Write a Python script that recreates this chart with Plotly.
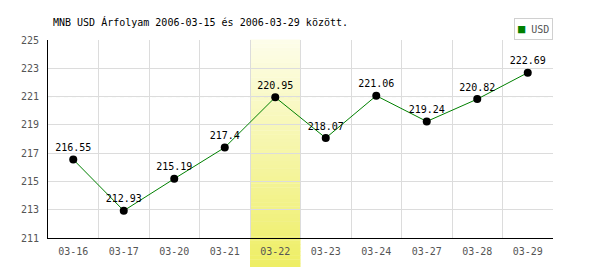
import plotly.graph_objects as go

# ---- data ----
categories = ["03-16", "03-17", "03-20", "03-21", "03-22",
              "03-23", "03-24", "03-27", "03-28", "03-29"]
usd_values = [216.55, 212.93, 215.19, 217.4, 220.95,
              218.07, 221.06, 219.24, 220.82, 222.69]
value_labels = ["216.55", "212.93", "215.19", "217.4", "220.95",
                "218.07", "221.06", "219.24", "220.82", "222.69"]
y_tick_values = [211, 213, 215, 217, 219, 221, 223, 225]
highlight_category = "03-22"
reference_level = 221
series_name = "USD"
title_text = "MNB USD Árfolyam 2006-03-15 és 2006-03-29 között."

FONT = "DejaVu Sans Mono"
GRID = "#dcdcdc"
LINE_GREEN = "#008000"

fig = go.Figure()

fig.add_trace(go.Scatter(
    x=categories, y=usd_values, mode="lines+markers+text",
    text=value_labels, textposition="top center",
    textfont=dict(family=FONT, size=10, color="#000000"),
    line=dict(color=LINE_GREEN, width=1),
    marker=dict(color="#000000", size=8),
    cliponaxis=False, showlegend=False, name=series_name,
))

# highlight band (gradient drawn as thin strips)
hi = categories.index(highlight_category)
n_strips = 60
y_bottom, y_top = -0.147, 1.0
top_rgb = (253, 253, 234)
bot_rgb = (238, 238, 100)
shapes = []
for i in range(n_strips):
    f0 = i / n_strips
    f1 = (i + 1) / n_strips
    t = (f0 + f1) / 2
    c = tuple(round(bot_rgb[k] + (top_rgb[k] - bot_rgb[k]) * t) for k in range(3))
    shapes.append(dict(
        type="rect", xref="x", yref="paper",
        x0=hi - 0.5, x1=hi + 0.5,
        y0=y_bottom + (y_top - y_bottom) * f0,
        y1=y_bottom + (y_top - y_bottom) * f1 + 0.002,
        fillcolor="rgb(%d,%d,%d)" % c, line=dict(width=0), layer="between",
    ))
# reference dashed line
shapes.append(dict(
    type="line", xref="paper", yref="y", x0=0, x1=1,
    y0=reference_level, y1=reference_level,
    line=dict(color="#a8cca8", width=1, dash="4px,4px"), layer="between",
))

fig.update_layout(
    width=600, height=270,
    margin=dict(l=48, r=47, t=40, b=32, pad=0),
    paper_bgcolor="white", plot_bgcolor="white",
    shapes=shapes,
    title=dict(text=title_text, x=53 / 600, xref="container", xanchor="left",
               y=1 - 22 / 270, yref="container", yanchor="middle",
               font=dict(family=FONT, size=10, color="#000000")),
    xaxis=dict(type="category", categoryarray=categories, range=[-0.5, len(categories) - 0.5],
               tickson="boundaries", showgrid=True, gridcolor=GRID, gridwidth=1,
               showline=True, linecolor="#000000", linewidth=1, ticks="",
               ticklabelstandoff=4,
               tickfont=dict(family=FONT, size=10, color="#555555"), fixedrange=True),
    yaxis=dict(range=[211, 225], tickvals=y_tick_values,
               ticktext=[str(v) for v in y_tick_values],
               showgrid=True, gridcolor=GRID, gridwidth=1, zeroline=False,
               showline=True, linecolor="#000000", linewidth=1, ticks="",
               ticklabelstandoff=6,
               tickfont=dict(family=FONT, size=10, color="#555555"), fixedrange=True),
    annotations=[dict(
        xref="paper", yref="paper", x=1, y=1, xanchor="right", yanchor="bottom",
        text="<span style='color:%s;font-size:12px'>■</span> <span style='color:#555555'>%s</span>" % (LINE_GREEN, series_name),
        font=dict(family=FONT, size=10), showarrow=False,
        bordercolor="#d0d0d0", borderwidth=1, borderpad=3, bgcolor="white",
    )],
)

fig.write_html("out.html")
